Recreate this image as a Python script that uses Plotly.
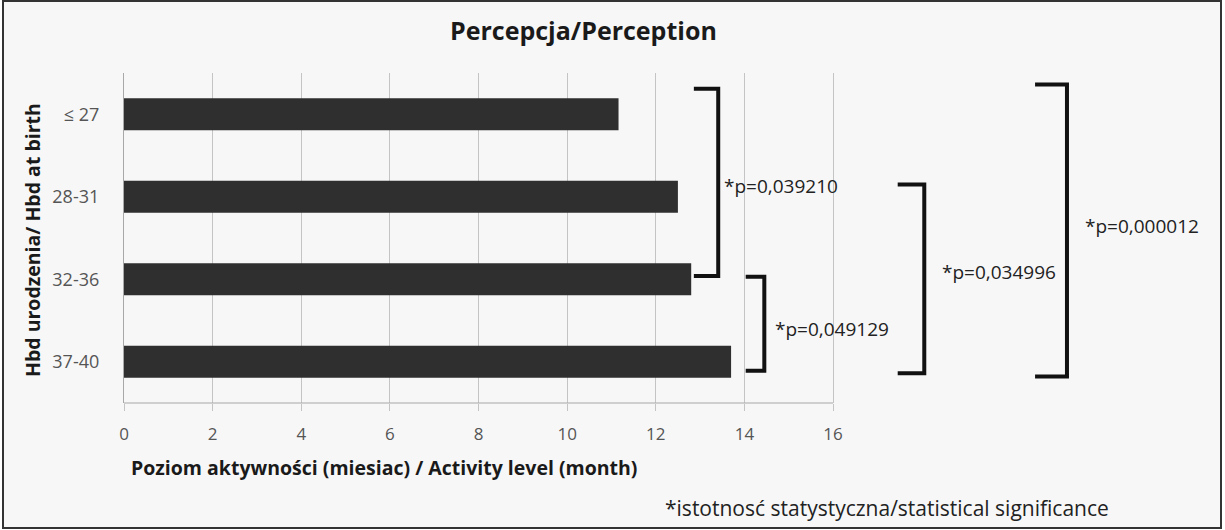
import plotly.graph_objects as go

# ---- data ----
categories = ["≤ 27", "28-31", "32-36", "37-40"]
activity_month = [11.16, 12.5, 12.8, 13.7]
x_ticks = [0, 2, 4, 6, 8, 10, 12, 14, 16]

# significance brackets
bracket_x_arm = [12.86, 14.03, 17.46, 20.56]
bracket_x_vert = [13.41, 14.45, 18.06, 21.28]
bracket_y_top = [-0.31, 1.97, 0.85, -0.36]
bracket_y_bot = [1.96, 3.11, 3.14, 3.18]
p_labels = ["*p=0,039210", "*p=0,049129", "*p=0,034996", "*p=0,000012"]
p_label_x = [13.50, 14.65, 18.42, 21.64]
p_label_y = [0.87, 2.60, 1.91, 1.36]

title = "Percepcja/Perception"
x_title = "Poziom aktywności (miesiac) / Activity level (month)"
y_title = "Hbd urodzenia/ Hbd at birth"
note = "*istotnosć statystyczna/statistical significance"

FONT = "Open Sans"

W, H = 1225, 530
L, R, T, B = 124, 15, 73, 127
pw, ph = W - L - R, H - T - B
px_per_unit = (833 - 124) / 16.0
x_max = pw / px_per_unit


def px(xp):
    return (xp - L) / pw


def py(yp):
    return (H - B - yp) / ph


fig = go.Figure()
fig.add_trace(go.Bar(
    x=activity_month, y=categories, orientation="h",
    marker=dict(color="#2f2f2f", line=dict(width=0)),
    hoverinfo="x+y", showlegend=False,
))

shapes = []
shapes.append(dict(type="rect", xref="paper", yref="paper",
                   x0=px(3), x1=px(1221), y0=py(528), y1=py(1),
                   line=dict(color="#333333", width=2), fillcolor="#f7f7f7",
                   layer="below"))
shapes.append(dict(type="line", xref="x", yref="paper",
                   x0=0, x1=x_ticks[-1], y0=0, y1=0,
                   line=dict(color="#a8a8a8", width=1.2), layer="above"))
for xa, xv, yt, yb in zip(bracket_x_arm, bracket_x_vert, bracket_y_top, bracket_y_bot):
    shapes.append(dict(type="path", xref="x", yref="y",
                       path=f"M {xa},{yt} L {xv},{yt} L {xv},{yb} L {xa},{yb}",
                       line=dict(color="#111111", width=4), layer="above"))

annotations = []
for lab, lx, ly in zip(p_labels, p_label_x, p_label_y):
    annotations.append(dict(text=lab, x=lx, y=ly, xref="x", yref="y",
                            xanchor="left", yanchor="middle", showarrow=False,
                            font=dict(family=FONT, size=19, color="#222222")))
annotations.append(dict(text=f"<b>{title}</b>", x=px(583), y=py(30),
                        xref="paper", yref="paper", xanchor="center", yanchor="middle",
                        showarrow=False, font=dict(family=FONT, size=25, color="#1a1a1a")))
annotations.append(dict(text=f"<b>{x_title}</b>", x=px(384), y=py(467),
                        xref="paper", yref="paper", xanchor="center", yanchor="middle",
                        showarrow=False, font=dict(family=FONT, size=19.5, color="#1a1a1a")))
annotations.append(dict(text=f"<b>{y_title}</b>", x=px(32), y=py(240),
                        xref="paper", yref="paper", xanchor="center", yanchor="middle",
                        textangle=-90, showarrow=False,
                        font=dict(family=FONT, size=19.5, color="#1a1a1a")))
annotations.append(dict(text=note, x=px(663), y=py(508),
                        xref="paper", yref="paper", xanchor="left", yanchor="middle",
                        showarrow=False, font=dict(family=FONT, size=21, color="#222222")))

fig.update_layout(
    width=W, height=H,
    margin=dict(l=L, r=R, t=T, b=B, pad=0),
    paper_bgcolor="white", plot_bgcolor="rgba(0,0,0,0)",
    bargap=0.61,
    shapes=shapes, annotations=annotations,
    font=dict(family=FONT, color="#444444"),
    xaxis=dict(range=[0, x_max], tickvals=x_ticks, ticktext=[str(v) for v in x_ticks],
               showgrid=True, gridcolor="#c4c4c4", gridwidth=1,
               ticks="outside", ticklen=7, tickcolor="#c4c4c4",
               showline=False, zeroline=False, ticklabelstandoff=9,
               tickfont=dict(family=FONT, size=17, color="#555555")),
    yaxis=dict(categoryorder="array", categoryarray=categories, range=[3.5, -0.5],
               showgrid=False, zeroline=False, showline=True, linecolor="#a8a8a8",
               linewidth=1.2, ticks="", ticklabelstandoff=20,
               tickfont=dict(family=FONT, size=18, color="#555555")),
)

fig.write_html("out.html", config={"displayModeBar": False},
               post_script="document.body.style.margin='0';document.body.style.overflow='hidden';")
